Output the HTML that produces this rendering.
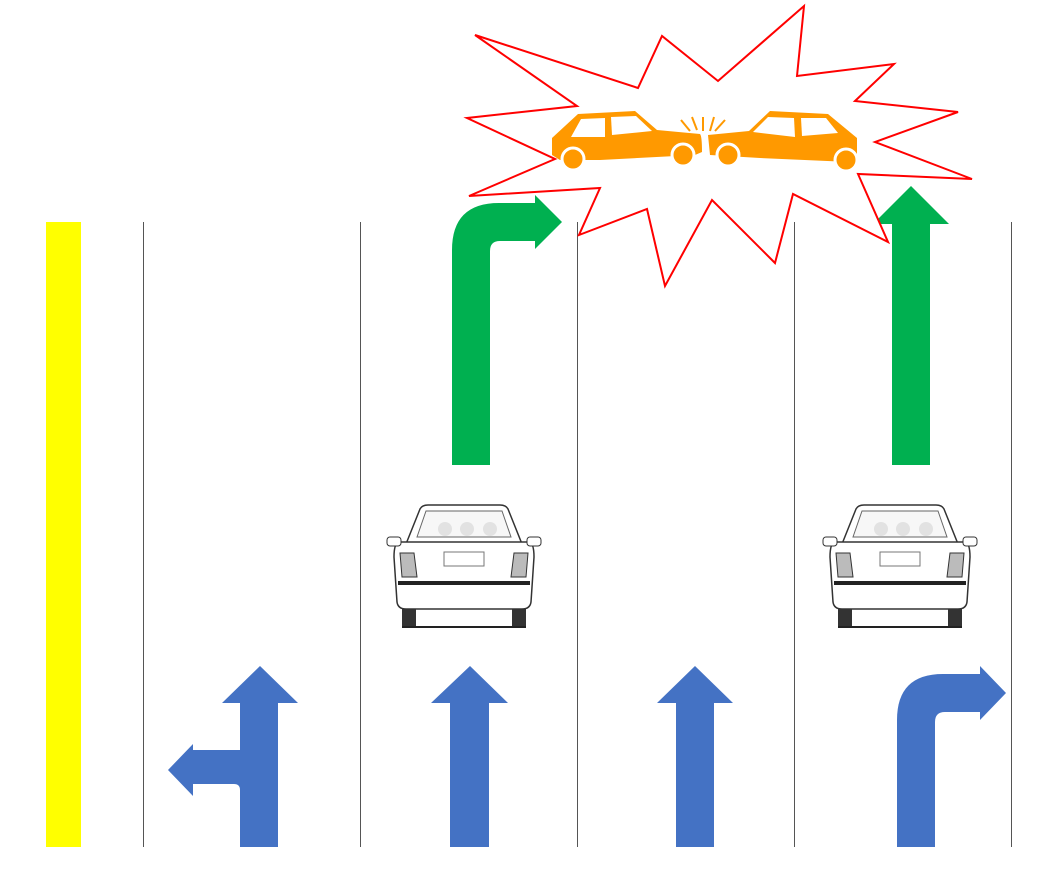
<!DOCTYPE html>
<html><head><meta charset="utf-8"><style>html,body{margin:0;padding:0;background:#fff}svg{display:block}</style></head>
<body>
<svg width="1040" height="874" viewBox="0 0 1040 874" xmlns="http://www.w3.org/2000/svg">
<rect x="46" y="222" width="35" height="625" fill="#ffff00"/>
<g stroke="#555" stroke-width="1">
<line x1="143.5" y1="222" x2="143.5" y2="847"/><line x1="360.5" y1="222" x2="360.5" y2="847"/>
<line x1="577.5" y1="222" x2="577.5" y2="847"/><line x1="794.5" y1="222" x2="794.5" y2="847"/>
<line x1="1011.5" y1="222" x2="1011.5" y2="847"/></g>
<!-- green arrows -->
<path d="M452 465 V250 Q452 203 499 203 H535 V195 L562 222 L535 249 V241 H500 Q490 241 490 251 V465 Z" fill="#00b050"/>
<path d="M892 465 V224 H873 L911 186 L949 224 H930 V465 Z" fill="#00b050"/>
<!-- blue arrows -->
<g fill="#4472c4">
<path d="M240 847 V790 Q240 784 234 784 H193 V796 L168 770 L193 744 V750 H240 V703 H222 L260 666 L298 703 H278 V847 Z"/>
<path d="M450 847 V703 H431 L470 666 L508 703 H489 V847 Z"/>
<path d="M676 847 V703 H657 L695 666 L733 703 H714 V847 Z"/>
<path d="M897 847 V720 Q897 674 943 674 H980 V666 L1006 693 L980 720 V712 H945 Q935 712 935 722 V847 Z"/>
</g>
<!-- explosion -->
<polygon points="475,35 638,88 662,36 718,81 804,6 797,76 894,64 855,101 958,112 875,142 972,179 858,174 888,242 793,194 775,263 712,200 665,286 647,209 579,235 600,188 469,196 555,159 467,118 577,106" fill="#fff" stroke="#ff0000" stroke-width="2"/>
<!-- crash cars -->
<g fill="#ff9900">
<path d="M552 138 L578 114 L635 111 L657 130 L700 134 Q702 136 702 152 L695 155 L600 160 L560 160 L552 155 Z"/>
<path d="M708 135 L749 131 L770 111 L828 114 L857 138 L857 161 L850 162 L760 158 L710 155 Z"/>
<circle cx="573" cy="159" r="11" stroke="#fff" stroke-width="3"/>
<circle cx="683" cy="155" r="11" stroke="#fff" stroke-width="3"/>
<circle cx="728" cy="155" r="11" stroke="#fff" stroke-width="3"/>
<circle cx="846" cy="160" r="11" stroke="#fff" stroke-width="3"/>
</g>
<g fill="#fff"><path d="M571 137 L581 119 L605 118 L605 137 Z"/><path d="M611 117 L636 116 L652 131 L612 135 Z"/>
<path d="M753 132 L768 117 L794 118 L795 137 Z"/><path d="M801 118 L826 118 L838 133 L802 136 Z"/></g>
<g stroke="#ff9900" stroke-width="2"><line x1="681" y1="120" x2="690" y2="131"/><line x1="692" y1="117" x2="697" y2="130"/><line x1="703" y1="117" x2="703" y2="131"/><line x1="714" y1="117" x2="710" y2="131"/><line x1="725" y1="120" x2="715" y2="131"/></g>
<!-- rear car -->
<defs><g id="car">
<path d="M20 52 L36 12 Q38 8 44 8 H116 Q122 8 124 12 L140 52 Z" fill="#fff" stroke="#333" stroke-width="1.5"/>
<path d="M33 40 L42 14 H118 L127 40 Z" fill="#f7f7f7" stroke="#666"/>
<circle cx="61" cy="32" r="7" fill="#e2e2e2"/><circle cx="83" cy="32" r="7" fill="#e2e2e2"/><circle cx="106" cy="32" r="7" fill="#e2e2e2"/>
<path d="M15 45 H145 Q150 46 150 60 L147 105 Q146 112 138 112 H22 Q14 112 13 105 L10 60 Q10 46 15 45Z" fill="#fff" stroke="#333" stroke-width="1.5"/>
<rect x="3" y="40" width="14" height="9" rx="3" fill="#fff" stroke="#333"/><rect x="143" y="40" width="14" height="9" rx="3" fill="#fff" stroke="#333"/>
<path d="M16 56 H30 L33 80 H18 Z" fill="#bbb" stroke="#333"/><path d="M144 56 H130 L127 80 H142 Z" fill="#bbb" stroke="#333"/>
<rect x="60" y="55" width="40" height="14" fill="#fff" stroke="#777"/>
<rect x="14" y="84" width="132" height="4" fill="#222"/>
<rect x="18" y="112" width="14" height="18" fill="#333"/><rect x="128" y="112" width="14" height="18" fill="#333"/>
<line x1="18" y1="130" x2="142" y2="130" stroke="#222" stroke-width="2"/>
</g></defs>
<use href="#car" x="384" y="497"/>
<use href="#car" x="820" y="497"/>
</svg>
</body></html>
